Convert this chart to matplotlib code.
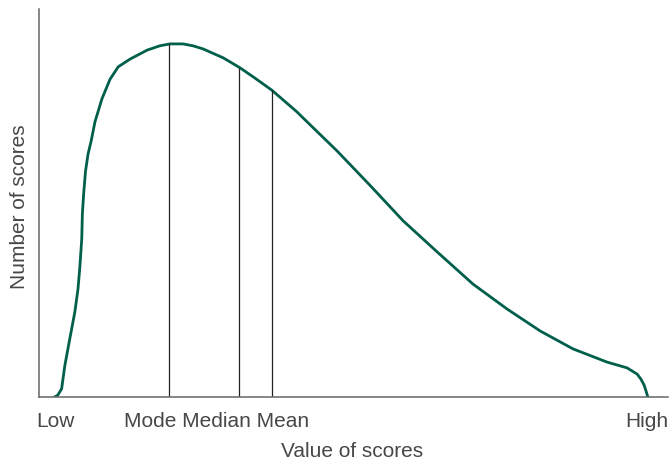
import numpy as np
import matplotlib.pyplot as plt

# curve (score value 0-100, count 0-100)
score = [2.5, 3.0, 3.6, 4.1, 4.9, 5.7, 6.2, 6.5, 6.8, 6.9, 7.1, 7.4, 7.8, 8.3,
         8.9, 10.0, 11.3, 12.6, 14.5, 17.2, 19.2, 20.8, 22.9, 24.5, 26.1, 29.3,
         32.0, 34.5, 37.0, 41.0, 42.0, 47.4, 52.6, 57.9, 63.3, 69.0, 74.4, 79.7,
         84.9, 90.3, 93.5, 95.1, 95.7, 96.2, 96.5, 96.8]
count = [0.0, 0.5, 2.1, 8.0, 15.0, 21.9, 27.8, 33.5, 40.7, 47.2, 52.3, 58.2, 62.6, 66.0,
         70.9, 76.8, 81.9, 85.1, 87.1, 89.4, 90.5, 91.0, 91.0, 90.5, 89.7, 87.4,
         84.8, 82.0, 79.1, 73.5, 71.9, 63.4, 54.6, 45.4, 37.4, 29.1, 22.7, 17.0,
         12.4, 9.0, 7.5, 5.9, 4.6, 3.1, 1.6, 0.0]

# mode, median, mean
marks_x = [20.7, 31.8, 37.0]
marks_h = [91.0, 84.8, 79.1]

fig = plt.figure(figsize=(6.72, 4.6), dpi=100)
ax = fig.add_axes([0.058, 0.1348, 0.936, 0.8435])

ax.plot(score, count, color='#005f4b', lw=2.0, solid_joinstyle='round')
ax.vlines(marks_x, 0, marks_h, color='#222222', lw=0.9)

ax.set_xlim(0, 100)
ax.set_ylim(0, 100)
ax.set_xticks([])
ax.set_yticks([])
for s in ['top', 'right']:
    ax.spines[s].set_visible(False)
for s in ['left', 'bottom']:
    ax.spines[s].set_color('#666666')
    ax.spines[s].set_linewidth(1.1)

txt = dict(fontsize=15, color='#474747', family='Liberation Sans')
fig.text(0.054, 0.0724, 'Low', ha='left', va='baseline', **txt)
fig.text(0.185, 0.0724, 'Mode Median Mean', ha='left', va='baseline', **txt)
fig.text(0.994, 0.0724, 'High', ha='right', va='baseline', **txt)
fig.text(0.524, 0.0072, 'Value of scores', ha='center', va='baseline', **txt)
fig.text(0.029, 0.55, 'Number of scores', rotation=90, ha='center', va='center', **txt)

fig.savefig('out.png', dpi=100)
